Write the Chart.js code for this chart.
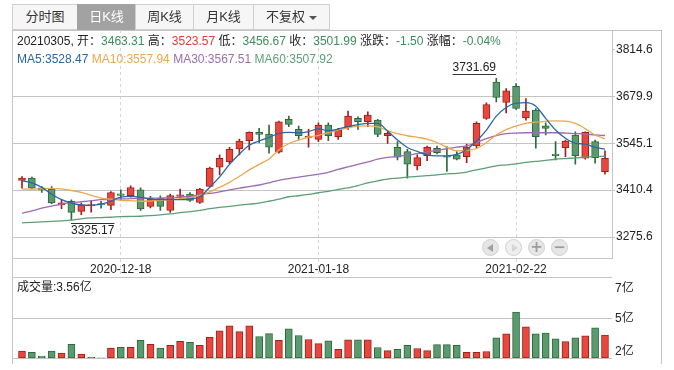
<!DOCTYPE html>
<html>
<head>
<meta charset="utf-8">
<script src="https://cdn.jsdelivr.net/npm/chart.js@4.4.1/dist/chart.umd.min.js"></script>
<style>
body { margin: 0; background: #fff; font-family: "Liberation Sans", Arial, "Noto Sans CJK SC", sans-serif; color: #222; }
#wrap { position: relative; width: 674px; height: 370px; overflow: hidden; }
canvas { position: absolute; left: 0; }
.tab { position: absolute; top: 4px; height: 26px; box-sizing: border-box; border: 1px solid #cfcfcf; background: #f6f6f6; font-size: 13px; line-height: 24px; text-align: center; color: #333; }
.tab.on { background: #a2a2a2; color: #fff; border-color: #a2a2a2; }
.caret { display: inline-block; width: 0; height: 0; border-left: 4px solid transparent; border-right: 4px solid transparent; border-top: 4px solid #555; vertical-align: middle; margin-left: 4px; }
.frame { position: absolute; left: 12px; top: 30px; width: 650px; height: 334px; box-sizing: border-box; border: 1px solid #c4c4c4; border-bottom: none; }
.hline { position: absolute; height: 1px; background: #c4c4c4; }
.txt { position: absolute; font-size: 12px; line-height: 16px; white-space: nowrap; }
.g { color: #3d8c5c; } .r { color: #e33a32; }
.btn { position: absolute; top: 239px; width: 17px; height: 17px; box-sizing: border-box; border-radius: 50%; background: #e6e6e6; border: 1px solid #d0d0d0; color: #9c9c9c; font-size: 15px; line-height: 14px; text-align: center; font-weight: bold; font-family: "DejaVu Sans", sans-serif; }
.btn.off { background: #efefef; color: #d2d2d2; }
.tri { position: absolute; top: 4px; width: 0; height: 0; border-top: 4px solid transparent; border-bottom: 4px solid transparent; }
</style>
</head>
<body>
<div id="wrap">
  <div class="frame"></div>
  <div class="hline" style="left:12px; top:277px; width:600px;"></div>
  <canvas id="price" width="674" height="277" style="top:0"></canvas>
  <canvas id="vol" width="674" height="101" style="top:269px"></canvas>

  <div class="tab" style="left:12px; width:66px;">分时图</div>
  <div class="tab on" style="left:77px; width:59px;">日K线</div>
  <div class="tab" style="left:135px; width:59px;">周K线</div>
  <div class="tab" style="left:193px; width:61px;">月K线</div>
  <div class="tab" style="left:253px; width:77px;">不复权<span class="caret"></span></div>

  <div class="txt" id="info" style="left:17px; top:33px;"></div>
  <div class="txt" id="malegend" style="left:17px; top:51px;"></div>
  <div class="txt" id="vollabel" style="left:17px; top:279px;"></div>

  <div class="btn" style="left:482px;"><span class="tri" style="left:4px; border-right:6px solid #a0a0a0;"></span></div>
  <div class="btn off" style="left:505px;"><span class="tri" style="left:6px; border-left:6px solid #d6d6d6;"></span></div>
  <div class="btn" style="left:528px;">+</div>
  <div class="btn" style="left:551px;">−</div>
</div>
<script>
const dates = ['2020-12-04','2020-12-07','2020-12-08','2020-12-09','2020-12-10','2020-12-11','2020-12-14','2020-12-15','2020-12-16','2020-12-17',
  '2020-12-18','2020-12-21','2020-12-22','2020-12-23','2020-12-24','2020-12-25','2020-12-28','2020-12-29','2020-12-30','2020-12-31',
  '2021-01-04','2021-01-05','2021-01-06','2021-01-07','2021-01-08','2021-01-11','2021-01-12','2021-01-13','2021-01-14','2021-01-15',
  '2021-01-18','2021-01-19','2021-01-20','2021-01-21','2021-01-22','2021-01-25','2021-01-26','2021-01-27','2021-01-28','2021-01-29',
  '2021-02-01','2021-02-02','2021-02-03','2021-02-04','2021-02-05','2021-02-08','2021-02-09','2021-02-10','2021-02-18','2021-02-19',
  '2021-02-22','2021-02-23','2021-02-24','2021-02-25','2021-02-26','2021-03-01','2021-03-02','2021-03-03','2021-03-04','2021-03-05'];

const opens = [3438.1,3445.0,3417.0,3413.5,3367.8,3378.0,3349.5,3365.8,3371.6,3366.7,
  3400.0,3394.4,3411.5,3363.8,3386.7,3352.0,3392.4,3399.0,3375.0,3421.0,
  3476.5,3492.5,3528.8,3552.5,3576.5,3571.7,3519.4,3613.7,3585.0,3562.0,
  3556.5,3597.4,3564.0,3592.6,3616.6,3607.0,3611.7,3567.0,3533.7,3521.0,
  3480.0,3509.6,3530.8,3506.8,3511.6,3507.0,3537.4,3616.6,3721.3,3662.4,
  3709.0,3618.3,3640.3,3595.4,3513.6,3532.5,3568.8,3502.2,3549.7,3463.31];
const highs = [3449.6,3447.9,3421.0,3421.0,3383.0,3383.0,3373.5,3378.0,3378.0,3406.7,
  3411.5,3422.9,3417.3,3392.4,3394.4,3399.3,3413.5,3403.8,3416.0,3476.5,
  3511.6,3533.7,3557.3,3578.3,3588.0,3597.4,3609.0,3623.0,3594.6,3585.0,
  3604.0,3604.0,3588.0,3638.0,3621.2,3635.5,3613.7,3578.0,3549.7,3528.0,
  3511.6,3537.4,3537.4,3535.4,3521.0,3542.8,3607.0,3661.2,3731.69,3702.4,
  3716.7,3673.8,3645.0,3604.0,3549.7,3554.6,3578.0,3578.3,3554.6,3523.57];
const lows = [3416.4,3414.0,3404.0,3371.5,3357.0,3325.17,3340.0,3347.0,3359.0,3354.5,
  3383.0,3390.6,3352.3,3359.2,3352.3,3346.6,3385.0,3377.9,3372.0,3420.0,
  3454.4,3485.9,3511.6,3525.9,3547.0,3516.5,3516.5,3592.5,3556.5,3533.7,
  3549.7,3552.5,3556.5,3585.0,3585.1,3592.6,3564.0,3545.0,3497.3,3445.0,
  3468.7,3495.3,3514.5,3464.0,3497.3,3489.6,3530.8,3613.7,3664.0,3632.6,
  3642.3,3611.7,3530.8,3568.8,3497.4,3506.8,3485.0,3499.3,3487.9,3456.67];
const closes = [3445.0,3416.4,3411.0,3373.5,3374.4,3346.6,3368.6,3367.8,3367.8,3403.8,
  3395.0,3418.0,3356.3,3385.0,3363.8,3395.0,3397.2,3381.0,3413.5,3473.6,
  3502.2,3528.0,3551.7,3576.5,3570.8,3533.7,3606.9,3599.4,3566.8,3565.9,
  3597.4,3566.8,3583.0,3623.0,3606.9,3626.0,3570.8,3573.7,3505.1,3485.0,
  3504.0,3533.7,3518.2,3505.0,3499.3,3534.0,3602.3,3656.6,3676.7,3695.5,
  3645.0,3637.5,3564.0,3588.0,3509.6,3551.7,3509.6,3576.6,3503.49,3501.99];

// 成交量, 亿
const volumes = [2.55,2.47,2.24,2.55,2.43,2.98,2.37,2.18,2.12,2.74,
  2.80,2.80,3.23,2.98,2.74,2.92,3.17,3.11,2.92,3.42,
  3.83,4.16,3.79,4.16,3.48,3.66,3.23,3.97,3.54,3.29,
  3.03,3.21,2.66,3.27,3.27,3.27,2.78,2.59,2.66,2.92,
  2.72,2.59,2.96,2.96,2.92,2.47,2.47,2.53,3.40,3.64,
  5.02,4.09,3.64,3.70,3.33,3.15,3.40,3.52,4.03,3.56];

const ma5 = [3437.3,3431.6,3418.7,3398.7,3383.0,3373.0,3367.8,3366.9,3370.0,3378.7,
  3390.7,3392.4,3390.0,3385.8,3383.0,3383.0,3383.0,3385.0,3391.5,3418.7,
  3448.7,3484.5,3514.5,3539.4,3551.7,3561.7,3573.7,3576.6,3575.4,3578.8,
  3586.9,3581.1,3586.0,3593.1,3598.9,3602.3,3602.3,3580.3,3554.5,3533.1,
  3521.6,3511.6,3508.8,3508.8,3513.0,3527.4,3551.7,3583.1,3623.2,3648.1,
  3660.4,3661.8,3651.8,3616.6,3583.1,3559.4,3545.1,3543.0,3533.7,3528.47];
const ma10 = [3413.5,3413.5,3414.4,3415.8,3414.4,3409.5,3404.4,3395.8,3387.8,3384.4,
  3381.5,3380.1,3378.6,3379.2,3381.5,3383.0,3385.8,3388.7,3395.8,3405.8,
  3418.7,3433.0,3450.2,3468.7,3484.5,3500.2,3525.9,3544.5,3554.5,3563.1,
  3568.0,3576.0,3583.1,3589.7,3594.6,3595.2,3592.3,3581.7,3573.1,3566.8,
  3562.3,3557.4,3547.4,3533.7,3523.1,3524.5,3530.2,3547.4,3568.8,3584.6,
  3594.6,3602.3,3606.0,3608.3,3609.7,3608.9,3602.3,3587.4,3568.8,3557.94];
const ma30 = [3344.3,3350.6,3358.6,3364.9,3370.6,3374.4,3377.2,3380.1,3383.0,3383.8,
  3385.2,3386.4,3387.0,3387.2,3387.8,3388.1,3390.1,3393.0,3397.2,3401.0,
  3405.8,3411.5,3416.4,3420.7,3425.3,3431.6,3438.7,3443.6,3447.9,3452.2,
  3456.4,3461.6,3470.2,3477.3,3484.5,3491.6,3499.3,3504.5,3507.3,3510.8,
  3515.4,3519.6,3525.1,3529.4,3533.9,3537.9,3547.4,3558.8,3567.4,3572.6,
  3574.6,3575.4,3575.4,3575.4,3575.4,3574.6,3573.1,3571.7,3569.4,3567.51];
const ma60 = [3316.6,3318.0,3319.2,3320.6,3322.3,3324.3,3328.0,3330.6,3331.7,3332.6,
  3334.3,3334.9,3335.5,3337.2,3339.5,3342.1,3345.8,3348.6,3352.1,3357.2,
  3360.9,3363.8,3367.2,3370.1,3373.5,3378.6,3384.4,3391.5,3394.4,3398.1,
  3403.0,3407.2,3413.0,3417.3,3423.6,3431.6,3437.3,3442.1,3445.0,3447.9,
  3450.2,3452.4,3454.4,3457.3,3458.7,3462.5,3468.7,3474.5,3480.2,3483.1,
  3485.9,3490.2,3493.1,3495.9,3499.3,3501.3,3503.0,3505.0,3507.3,3507.92];

const priceTicks = [3275.6, 3410.4, 3545.1, 3679.9, 3814.6];
const dateTicks = ['2020-12-18', '2021-01-18', '2021-02-22'];
const volTickValues = [2.49, 4.6, 6.5];
const volTickLabels = ['2亿', '5亿', '7亿'];
const volGridValues = [2.1, 4.6];

const RED = '#e8473e', RED_EDGE = '#a0201b';
const GREEN = '#5b9a6e', GREEN_EDGE = '#2b6a3a';
const FONT = { family: '"Liberation Sans", Arial, "Noto Sans CJK SC", sans-serif', size: 12 };

const up = closes.map((c, i) => c > opens[i]);
const fill = up.map(u => u ? RED : GREEN);
const edge = up.map(u => u ? RED_EDGE : GREEN_EDGE);

// text above the chart
const n = closes.length - 1;
const chg = closes[n] - closes[n - 1];
const pct = chg / closes[n - 1] * 100;
const cls = v => v >= closes[n - 1] ? 'r' : 'g';
document.getElementById('info').innerHTML =
  dates[n].replace(/-/g, '') + ', 开：<span class="' + cls(opens[n]) + '">' + opens[n].toFixed(2) + '</span> ' +
  '高：<span class="' + cls(highs[n]) + '">' + highs[n].toFixed(2) + '</span> ' +
  '低：<span class="' + cls(lows[n]) + '">' + lows[n].toFixed(2) + '</span> ' +
  '收：<span class="' + cls(closes[n]) + '">' + closes[n].toFixed(2) + '</span> ' +
  '涨跌：<span class="' + (chg >= 0 ? 'r' : 'g') + '">' + chg.toFixed(2) + '</span> ' +
  '涨幅：<span class="' + (chg >= 0 ? 'r' : 'g') + '">' + pct.toFixed(2) + '%</span>';

const maSeries = [
  { name: 'MA5', data: ma5, color: '#2a66a6' },
  { name: 'MA10', data: ma10, color: '#eba84c' },
  { name: 'MA30', data: ma30, color: '#9c6bb4' },
  { name: 'MA60', data: ma60, color: '#5c9f76' }
];
document.getElementById('malegend').innerHTML = maSeries.map(m =>
  '<span style="color:' + m.color + '">' + m.name + ':' + m.data[n].toFixed(2) + '</span>').join(' ');
document.getElementById('vollabel').innerHTML = '成交量:' + volumes[n].toFixed(2) + '亿';

const xMin = -1.012, xMax = 59.71;

// marks the highest high and lowest low
const extremes = {
  id: 'extremes',
  afterDatasetsDraw(chart) {
    const c = chart.ctx, xs = chart.scales.x, ys = chart.scales.y;
    const iH = highs.indexOf(Math.max(...highs));
    const iL = lows.indexOf(Math.min(...lows));
    c.save();
    c.font = '12px ' + FONT.family;
    c.fillStyle = '#222';
    c.strokeStyle = '#333';
    c.lineWidth = 1;
    let x = Math.round(xs.getPixelForValue(iH)), y = Math.round(ys.getPixelForValue(highs[iH])) - 3.5;
    let t = highs[iH].toFixed(2), w = c.measureText(t).width;
    c.beginPath(); c.moveTo(x - w, y); c.lineTo(x, y); c.stroke();
    c.textAlign = 'right'; c.textBaseline = 'bottom';
    c.fillText(t, x, y - 1);
    x = Math.round(xs.getPixelForValue(iL)); y = Math.round(ys.getPixelForValue(lows[iL])) + 3.5;
    t = lows[iL].toFixed(2); w = c.measureText(t).width;
    c.beginPath(); c.moveTo(x, y); c.lineTo(x + w, y); c.stroke();
    c.textAlign = 'left'; c.textBaseline = 'top';
    c.fillText(t, x, y + 1);
    c.restore();
  }
};

new Chart(document.getElementById('price'), {
  type: 'bar',
  data: {
    datasets: [
      ...maSeries.map(m => ({
        type: 'line', data: m.data.map((v, i) => ({ x: i, y: v })),
        borderColor: m.color, borderWidth: 1.3, pointRadius: 0,
        cubicInterpolationMode: 'monotone', order: 0
      })),
      {
        data: opens.map((o, i) => ({ x: i, y: [o, closes[i]] })),
        backgroundColor: fill, borderColor: edge, borderWidth: 1, borderSkipped: false,
        barThickness: 7, minBarLength: 1, grouped: false, order: 1
      },
      {
        data: lows.map((l, i) => ({ x: i, y: [l, highs[i]] })),
        backgroundColor: edge, barThickness: 1, grouped: false, order: 2
      }
    ]
  },
  options: {
    responsive: false,
    animation: false,
    layout: { padding: { left: 12, top: 30, right: 13, bottom: 0 } },
    plugins: { legend: { display: false }, tooltip: { enabled: false } },
    scales: {
      x: {
        type: 'linear', min: xMin, max: xMax, offset: false,
        afterBuildTicks: s => { s.ticks = dateTicks.map(d => ({ value: dates.indexOf(d) })); },
        afterFit: s => { s.height = 18.5; },
        ticks: { callback: v => dates[v], font: FONT, color: '#222', padding: -15, maxRotation: 0, autoSkip: false },
        grid: { offset: false, color: '#d6d6d6', tickColor: '#d6d6d6', tickLength: 18.5, tickBorderDash: [3, 3] },
        border: { color: '#c4c4c4', dash: [3, 3] }
      },
      y: {
        type: 'linear', position: 'right', min: 3214.1, max: 3870.6,
        afterBuildTicks: s => { s.ticks = priceTicks.map(v => ({ value: v })); },
        afterFit: s => { s.width = 49; },
        ticks: { callback: v => v.toFixed(1), font: FONT, color: '#222', padding: 1 },
        grid: {
          color: ctx => (ctx.tick && ctx.tick.value === priceTicks[4]) ? 'rgba(0,0,0,0)' : '#c4c4c4',
          tickColor: '#c4c4c4', tickLength: 3
        },
        border: { color: '#c4c4c4' }
      }
    }
  },
  plugins: [extremes]
});

new Chart(document.getElementById('vol'), {
  type: 'bar',
  data: {
    datasets: [{
      data: volumes.map((v, i) => ({ x: i, y: v })),
      backgroundColor: fill, borderColor: edge, borderWidth: 1, borderSkipped: false,
      barThickness: 7, base: volGridValues[0]
    }]
  },
  options: {
    responsive: false,
    animation: false,
    layout: { padding: { left: 12, top: 8, right: 13, bottom: 11.7 } },
    plugins: { legend: { display: false }, tooltip: { enabled: false } },
    scales: {
      x: { type: 'linear', min: xMin, max: xMax, offset: false, display: false },
      y: {
        type: 'linear', position: 'right', weight: 0, min: 2.1, max: 7.1,
        afterBuildTicks: s => { s.ticks = volGridValues.map(v => ({ value: v })); },
        afterFit: s => { s.width = 0; },
        ticks: { display: false },
        grid: { color: '#c4c4c4', drawTicks: false },
        border: { display: false }
      },
      y2: {
        type: 'linear', position: 'right', weight: 1, min: 2.1, max: 7.1,
        afterBuildTicks: s => { s.ticks = volTickValues.map(v => ({ value: v })); },
        afterFit: s => { s.width = 49; },
        ticks: { callback: (v, i) => volTickLabels[i], font: FONT, color: '#222', padding: 3 },
        grid: { display: false, drawTicks: false },
        border: { display: false }
      }
    }
  }
});
</script>
</body>
</html>
